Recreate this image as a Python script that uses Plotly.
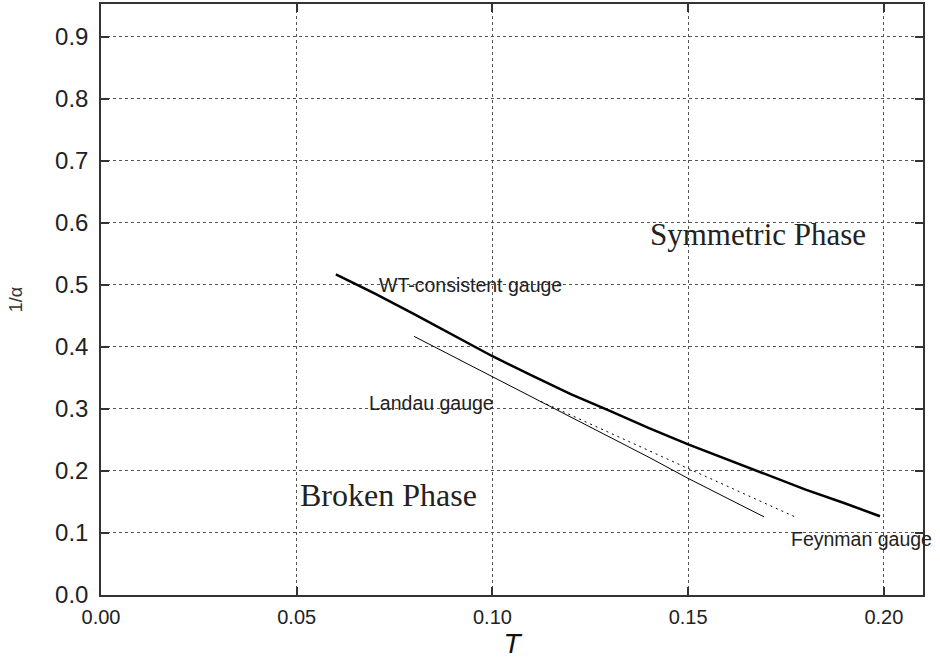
import plotly.graph_objects as go

# WT-consistent gauge (thick solid)
wt_T = [0.06, 0.07, 0.08, 0.09, 0.10, 0.11, 0.12, 0.13, 0.14, 0.15, 0.16, 0.17, 0.18, 0.19, 0.199]
wt_inv_alpha = [0.517, 0.486, 0.453, 0.419, 0.385, 0.354, 0.324, 0.297, 0.269, 0.243, 0.219, 0.194, 0.170, 0.148, 0.127]

# Landau gauge (thin solid)
landau_T = [0.080, 0.10, 0.12, 0.14, 0.15, 0.16, 0.1694]
landau_inv_alpha = [0.417, 0.352, 0.287, 0.222, 0.188, 0.156, 0.126]

# Feynman gauge (thin dotted)
feyn_T = [0.1124, 0.13, 0.15, 0.1773]
feyn_inv_alpha = [0.312, 0.262, 0.204, 0.126]

x_ticks = [0.00, 0.05, 0.10, 0.15, 0.20]
y_ticks = [0.0, 0.1, 0.2, 0.3, 0.4, 0.5, 0.6, 0.7, 0.8, 0.9]

fig = go.Figure()
fig.add_trace(go.Scatter(x=wt_T, y=wt_inv_alpha, mode="lines",
                         line=dict(color="black", width=2.5), showlegend=False))
fig.add_trace(go.Scatter(x=landau_T, y=landau_inv_alpha, mode="lines",
                         line=dict(color="black", width=1), showlegend=False))
fig.add_trace(go.Scatter(x=feyn_T, y=feyn_inv_alpha, mode="lines",
                         line=dict(color="black", width=1, dash="2px,4px"), showlegend=False))

sans = "Liberation Sans, Arial, sans-serif"
serif = "Liberation Serif, Times New Roman, serif"

annots = [
    dict(x=0.0945, y=0.500, text="WT-consistent gauge", font=dict(family=sans, size=19.5, color="#222")),
    dict(x=0.0845, y=0.309, text="Landau gauge", font=dict(family=sans, size=19.5, color="#222")),
    dict(x=0.1944, y=0.090, text="Feynman gauge", font=dict(family=sans, size=19.5, color="#222")),
    dict(x=0.1679, y=0.581, text="Symmetric Phase", font=dict(family=serif, size=31, color="#222")),
    dict(x=0.0734, y=0.162, text="Broken Phase", font=dict(family=serif, size=32, color="#222")),
]
for a in annots:
    a.update(xref="x", yref="y", showarrow=False, xanchor="center", yanchor="middle")

fig.update_layout(
    width=940, height=659,
    margin=dict(l=101, r=17, t=4, b=64, autoexpand=False),
    paper_bgcolor="white", plot_bgcolor="white",
    annotations=annots,
    font=dict(family=sans, color="#222"),
)
fig.update_xaxes(
    range=[0, 0.21], tickvals=x_ticks, tickformat=".2f",
    tickfont=dict(size=20, color="#222"),
    ticks="inside", ticklen=8, tickcolor="#333", tickwidth=1.5,
    showline=True, linecolor="#333", linewidth=1.5, mirror="ticks",
    showgrid=True, gridcolor="#555", griddash="dot", gridwidth=1,
    zeroline=False, ticklabelstandoff=3, automargin=False,
    title=dict(text="<i>T</i>", font=dict(size=28, color="#111"), standoff=13),
)
fig.update_yaxes(
    range=[0, 0.953], tickvals=y_ticks, tickformat=".1f",
    tickfont=dict(size=24, color="#222"),
    ticks="inside", ticklen=8, tickcolor="#333", tickwidth=1.5,
    showline=True, linecolor="#333", linewidth=1.5, mirror="ticks",
    showgrid=True, gridcolor="#555", griddash="dot", gridwidth=1,
    zeroline=False, ticklabelstandoff=6, automargin=False,
    title=dict(text="1/α", font=dict(size=18, color="#333"), standoff=28),
)

fig.write_html("out.html", config={"displayModeBar": False},
               post_script="document.body.style.margin='0';")
